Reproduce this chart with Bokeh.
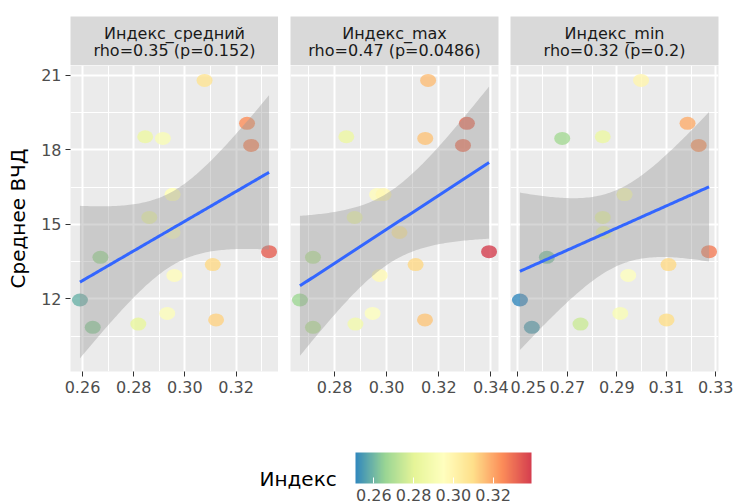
import numpy as np
from bokeh.plotting import figure
from bokeh.layouts import row, column
from bokeh.models import (Range1d, FixedTicker, PrintfTickFormatter, ColorBar,
                          LinearColorMapper, Label, ColumnDataSource, AllLabels)
from bokeh.core.properties import value
from bokeh.embed import file_html
from bokeh.resources import INLINE

# ---------------- data ----------------
y_vcd = [20.8, 18.53, 18.46, 19.07, 18.18, 16.2, 16.2, 15.28, 14.67, 13.67,
         13.9, 13.38, 12.94, 11.95, 10.85, 10.98, 11.41, 11.15]
x_mean = [0.3077, 0.2845, 0.2914, 0.3243, 0.3259, 0.2952, 0.2952, 0.2861, 0.2952, 0.2670,
          0.3329, 0.3109, 0.2959, 0.2590, 0.2640, 0.2818, 0.2931, 0.3122]
x_max = [0.3159, 0.2845, 0.3148, 0.3308, 0.3293, 0.2963, 0.2988, 0.2877, 0.3049, 0.2717,
         0.3393, 0.3111, 0.2973, 0.2667, 0.2717, 0.2880, 0.2946, 0.3147]
x_min = [0.2998, 0.2843, 0.2679, 0.3186, 0.3231, 0.2931, 0.2931, 0.2843, 0.2847, 0.2617,
         0.3273, 0.3109, 0.2946, 0.2508, 0.2556, 0.2753, 0.2914, 0.3101]

panel_names = ["Индекс_средний", "Индекс_max", "Индекс_min"]
panel_stats = ["rho=0.35 (p=0.152)", "rho=0.47 (p=0.0486)", "rho=0.32 (p=0.2)"]
panel_x = [x_mean, x_max, x_min]
x_ticks = [[0.26, 0.28, 0.30, 0.32], [0.28, 0.30, 0.32, 0.34], [0.25, 0.27, 0.29, 0.31, 0.33]]
x_minor = [[0.27, 0.29, 0.31, 0.33], [0.27, 0.29, 0.31, 0.33], [0.26, 0.28, 0.30, 0.32]]
y_ticks = [12, 15, 18, 21]
y_minor = [10.5, 13.5, 16.5, 19.5]
cb_ticks = [0.26, 0.28, 0.30, 0.32]
y_title = "Среднее ВЧД"
legend_title = "Индекс"

# ---------------- styles ----------------
FONT = "DejaVu Sans"
spectral = ["#3288bd", "#99d594", "#e6f598", "#ffffbf", "#fee08b", "#fc8d59", "#d53e4f"]


def interp(pal, n):
    rgb = np.array([[int(c[i:i + 2], 16) for i in (1, 3, 5)] for c in pal], float)
    pos = np.linspace(0, 1, len(pal))
    t = np.linspace(0, 1, n)
    out = []
    for tt in t:
        r = [np.interp(tt, pos, rgb[:, k]) for k in range(3)]
        out.append("#%02x%02x%02x" % tuple(int(round(v)) for v in r))
    return out


palette = interp(spectral, 256)
all_x = x_mean + x_max + x_min
lo_c, hi_c = min(all_x), max(all_x)
mapper = LinearColorMapper(palette=palette, low=lo_c, high=hi_c)


def lm_band(x, y, n=100):
    x = np.asarray(x, float)
    y = np.asarray(y, float)
    N = len(x)
    b, a = np.polyfit(x, y, 1)
    xs = np.linspace(x.min(), x.max(), n)
    fit = a + b * xs
    resid = y - (a + b * x)
    s = np.sqrt(np.sum(resid ** 2) / (N - 2))
    sxx = np.sum((x - x.mean()) ** 2)
    se = s * np.sqrt(1.0 / N + (xs - x.mean()) ** 2 / sxx)
    t = 2.120  # t quantile 0.975, df = 16
    return xs, fit, fit - t * se, fit + t * se


frame_w, frame_h = 208, 306
left_b = [70, 12, 0]
right_b = [0, 12, 15]
strip_h = 49
top_b = 16
bottom_b = 28

strips, panels = [], []
for i in range(3):
    w = left_b[i] + frame_w + right_b[i]
    # strip
    s = figure(width=w, height=top_b + strip_h, x_range=Range1d(0, 1), y_range=Range1d(0, 1),
               x_axis_type=None, y_axis_type=None, toolbar_location=None, output_backend="svg",
               min_border_left=left_b[i], min_border_right=right_b[i],
               min_border_top=top_b, min_border_bottom=0,
               background_fill_color="#D9D9D9", border_fill_color="white", outline_line_color=None)
    s.grid.visible = False
    s.text(x=[0.5], y=[0.655], text=[panel_names[i]], text_align="center", text_baseline="middle",
           text_font=value(FONT), text_font_size="16px", text_color="#1A1A1A")
    s.text(x=[0.5], y=[0.31], text=[panel_stats[i]], text_align="center", text_baseline="middle",
           text_font=value(FONT), text_font_size="16px", text_color="#1A1A1A")
    strips.append(s)

    xv = panel_x[i]
    rng = max(xv) - min(xv)
    xr = Range1d(min(xv) - 0.05 * rng, max(xv) + 0.05 * rng)
    p = figure(width=w, height=frame_h + bottom_b, x_range=xr, y_range=Range1d(9.07, 21.40),
               y_axis_location="left" if i == 0 else None,
               toolbar_location=None, output_backend="svg",
               min_border_left=left_b[i], min_border_right=right_b[i],
               min_border_top=0, min_border_bottom=bottom_b,
               background_fill_color="#EBEBEB", border_fill_color="white", outline_line_color=None)
    xt = FixedTicker(ticks=x_ticks[i], minor_ticks=x_minor[i])
    yt = FixedTicker(ticks=y_ticks, minor_ticks=y_minor)
    p.xaxis.ticker = xt
    p.xgrid.ticker = xt
    p.ygrid.ticker = yt
    for g in (p.xgrid, p.ygrid):
        g.grid_line_color = "white"
        g.grid_line_width = 2
        g.minor_grid_line_color = "white"
        g.minor_grid_line_width = 1
    p.xaxis.formatter = PrintfTickFormatter(format="%.2f")
    axes = [p.xaxis[0]]
    if i == 0:
        p.yaxis.ticker = yt
        p.yaxis.formatter = PrintfTickFormatter(format="%d")
        p.yaxis.axis_label = y_title
        p.yaxis.axis_label_text_font = FONT
        p.yaxis.axis_label_text_font_size = "20px"
        p.yaxis.axis_label_text_font_style = "normal"
        p.yaxis.axis_label_text_color = "black"
        p.yaxis.axis_label_standoff = 8
        axes.append(p.yaxis[0])
    for ax in axes:
        ax.axis_line_color = None
        ax.major_tick_line_color = "#333333"
        ax.major_tick_out = 5
        ax.major_tick_in = 0
        ax.minor_tick_line_color = None
        ax.major_label_text_font = FONT
        ax.major_label_text_font_size = "16px"
        ax.major_label_text_color = "#4D4D4D"
        ax.major_label_standoff = 4

    src = ColumnDataSource(dict(x=xv, y=y_vcd))
    p.ellipse(x="x", y="y", width=16, height=13, width_units="screen", height_units="screen",
              source=src, fill_color={"field": "x", "transform": mapper}, fill_alpha=0.8,
              line_color=None)
    xs, fit, lo, hi = lm_band(xv, y_vcd)
    p.varea(x=xs, y1=lo, y2=hi, fill_color="#999999", fill_alpha=0.4)
    p.line(x=xs, y=fit, line_color="#3366FF", line_width=3)
    panels.append(p)

# ---------------- legend ----------------
leg_h = 503 - (top_b + strip_h) - (frame_h + bottom_b)
leg = figure(width=733, height=leg_h, x_range=Range1d(0, 733), y_range=Range1d(0, leg_h),
             x_axis_type=None, y_axis_type=None, toolbar_location=None, output_backend="svg",
             min_border=0, border_fill_color="white", background_fill_color="white",
             outline_line_color=None)
leg.grid.visible = False
cb = ColorBar(color_mapper=mapper, orientation="horizontal", location=(355, 0),
              width=176, height=31, padding=0,
              ticker=FixedTicker(ticks=cb_ticks), formatter=PrintfTickFormatter(format="%.2f"),
              major_label_policy=AllLabels(),
              major_label_text_font=FONT, major_label_text_font_size="16px",
              major_label_text_color="#4D4D4D",
              major_tick_line_color="white", major_tick_in=6, major_tick_out=0,
              minor_tick_line_color=None, bar_line_color=None, border_line_color=None,
              background_fill_alpha=0, label_standoff=5)
leg.add_layout(cb)
leg.add_layout(Label(x=259, y=25, x_units="screen", y_units="screen", text=legend_title,
                     text_font=FONT, text_font_size="20px", text_color="black",
                     text_baseline="alphabetic"))

layout = column(row(*strips), row(*panels), leg)
open("out.html", "w").write(file_html(layout, INLINE))
